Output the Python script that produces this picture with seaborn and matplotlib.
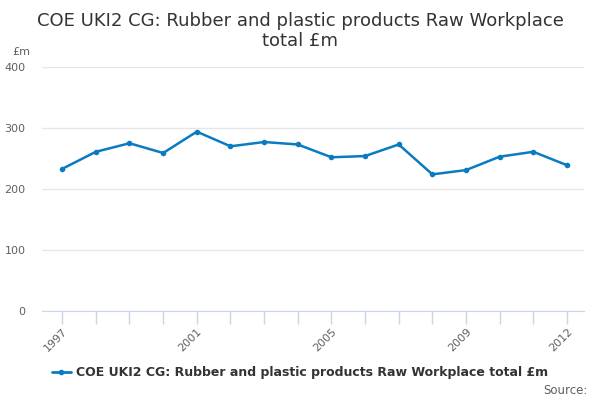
import pandas as pd
import numpy as np
import matplotlib
matplotlib.use("Agg")
import matplotlib.pyplot as plt
import seaborn as sns

# data
years = list(range(1997, 2013))
values = [233, 261, 275, 259, 294, 270, 277, 273, 252, 254, 273, 224, 231, 253, 261, 239]
labelled_years = [1997, 2001, 2005, 2009, 2012]
y_ticks = [0, 100, 200, 300, 400]

series_name = "COE UKI2 CG: Rubber and plastic products Raw Workplace total £m"
df = pd.DataFrame({"Year": years, "Value": values})

sns.set_style("white")
plt.rcParams["font.family"] = ["DejaVu Sans"]

line_color = "#0b7bc1"
fig = plt.figure(figsize=(6, 4), dpi=100)
ax = fig.add_axes([0.07, 0.2225, 0.903, 0.61])

sns.lineplot(data=df, x="Year", y="Value", ax=ax, color=line_color,
             linewidth=1.8, marker="o", markersize=4, markeredgewidth=0)

ax.set_ylim(0, 400)
ax.set_xlim(1996.4, 2012.5)
ax.set_yticks(y_ticks)
ax.set_yticklabels([str(v) for v in y_ticks], color="#606060", fontsize=8)
ax.set_xticks(years)
ax.set_xticklabels([str(y) if y in labelled_years else "" for y in years],
                   rotation=45, ha="right", rotation_mode="anchor",
                   color="#606060", fontsize=8)
ax.tick_params(axis="x", bottom=True, direction="out", length=9,
               color="#ccd6eb", width=1, pad=2)
ax.tick_params(axis="y", left=False, length=0, pad=12)
ax.grid(axis="y", color="#e6e6e6", linewidth=1)
ax.grid(axis="x", visible=False)
ax.set_axisbelow(True)
for side in ["top", "right", "left"]:
    ax.spines[side].set_visible(False)
ax.spines["bottom"].set_color("#ccd6eb")
ax.set_xlabel("")
ax.set_ylabel("")

fig.text(0.5, 0.97, "COE UKI2 CG: Rubber and plastic products Raw Workplace\ntotal £m",
         ha="center", va="top", fontsize=13, color="#333333", linespacing=1.15)
fig.text(0.02, 0.87, "£m", fontsize=8, color="#606060", va="center")
fig.text(0.98, 0.025, "Source:", fontsize=8.5, color="#606060", ha="right", va="center")

handle = plt.Line2D([], [], color=line_color, linewidth=2, marker="o", markersize=3)
fig.legend([handle], [series_name], loc="center", bbox_to_anchor=(0.5, 0.068),
           frameon=False, prop={"weight": "bold", "size": 9}, labelcolor="#333333",
           handlelength=1.5, handletextpad=0.4)

fig.savefig("out.png", dpi=100)
